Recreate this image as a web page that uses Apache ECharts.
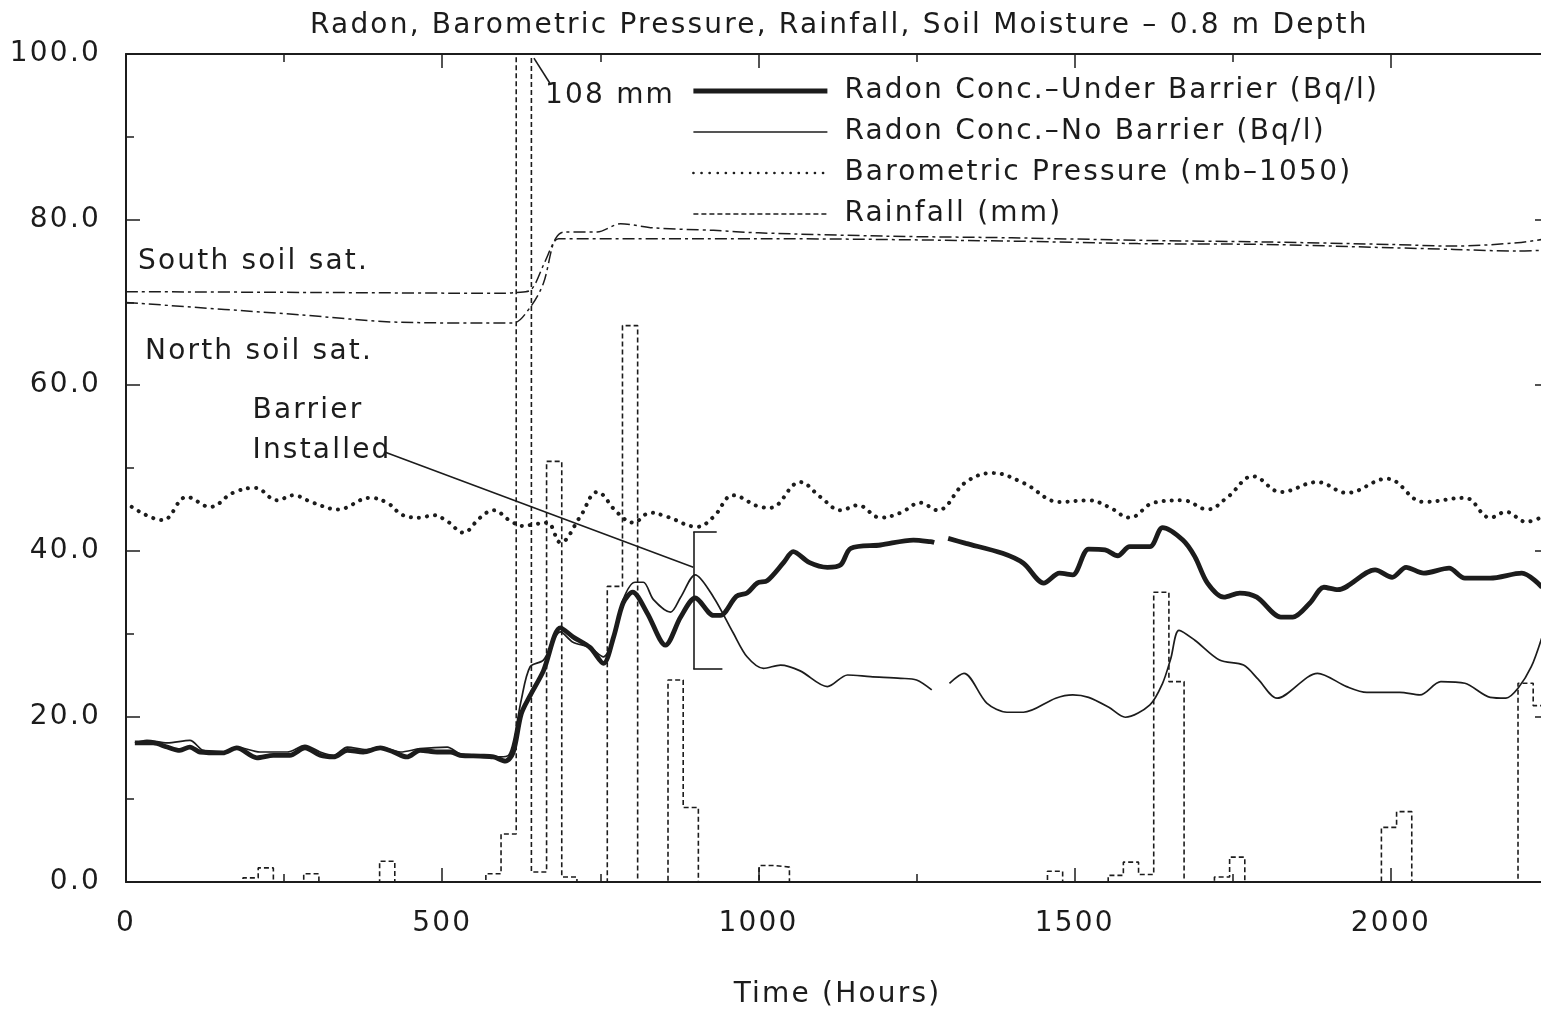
<!DOCTYPE html>
<html>
<head>
<meta charset="utf-8">
<script src="https://cdn.jsdelivr.net/npm/echarts@6/dist/echarts.min.js"></script>
<style>
html,body{margin:0;padding:0;background:#fff;}
#chart{width:1541px;height:1013px;}
</style>
</head>
<body>
<div id="chart"></div>
<script>
// ---------------- DATA ----------------
const underHours = [14,43,65,85,101,117,153,175,207,233,259,283,307,328,350,375,402,423,444,465,492,513,528,560,581,600,612,625,639,660,687,707,734,755,771,786,801,824,853,877,900,929,940,965,982,998,1014,1040,1055,1080,1109,1130,1146,1193,1245,1272,1278,1290,1300,1328,1386,1419,1451,1476,1497,1522,1548,1568,1587,1619,1639,1671,1690,1710,1736,1761,1788,1826,1845,1872,1894,1916,1975,2002,2024,2052,2092,2117,2157,2207,2239];
const underRadon = [16.8,16.8,16.3,15.9,16.3,15.7,15.6,16.2,15.0,15.3,15.3,16.2,15.3,15.1,15.9,15.7,16.2,15.7,15.1,15.9,15.7,15.7,15.3,15.2,15.1,14.6,15.6,20.3,22.5,25.5,30.7,29.6,28.3,26.4,29.6,33.7,35.0,32.5,28.6,32.0,34.3,32.2,32.2,34.5,34.9,36.1,36.4,38.6,39.9,38.6,38.0,38.3,40.3,40.7,41.3,41.1,41.0,'-',41.5,40.9,39.7,38.5,36.1,37.3,37.1,40.2,40.1,39.4,40.5,40.5,42.8,41.3,39.3,36.1,34.4,34.9,34.4,32.0,32.0,33.7,35.6,35.3,37.7,36.8,38.0,37.3,37.9,36.7,36.7,37.3,35.6];

const noHours = [14,33,65,101,122,153,175,212,255,283,307,328,350,380,402,434,465,508,528,560,592,605,613,625,639,660,687,706,734,755,771,786,805,818,834,861,877,900,929,960,982,1008,1035,1066,1109,1141,1177,1225,1250,1274,1290,1302,1325,1361,1393,1419,1470,1497,1522,1554,1580,1619,1639,1652,1665,1690,1729,1767,1790,1820,1884,1930,1962,2014,2046,2079,2117,2157,2182,2201,2222,2239];
const noRadon = [16.8,17.1,16.8,17.1,15.9,15.7,16.3,15.7,15.7,16.5,15.7,15.3,16.3,16.0,16.3,15.7,16.1,16.3,15.5,15.3,15.1,15.3,17.1,22.0,26.0,26.8,30.2,29.0,28.3,27.2,29.6,34.1,36.2,36.2,34.1,32.6,34.4,37.1,34.4,30.1,27.2,25.8,26.2,25.5,23.6,25.0,24.8,24.6,24.4,23.2,'-',24.0,25.2,21.6,20.5,20.5,22.2,22.6,22.3,21.1,19.9,21.4,24.0,27.0,30.4,29.2,26.8,26.2,24.5,22.2,25.2,23.6,22.9,22.9,22.6,24.2,24.0,22.3,22.2,23.4,26.0,29.6];

const pressHours = [9,58,96,133,169,204,239,264,296,335,386,413,438,465,486,509,533,560,581,608,628,645,666,687,718,745,777,802,829,856,903,929,960,1003,1019,1066,1098,1130,1157,1193,1225,1256,1283,1328,1370,1419,1476,1522,1554,1587,1625,1671,1710,1742,1782,1826,1884,1930,1994,2052,2117,2157,2182,2214,2239];
const pressure = [45.3,43.7,46.5,45.3,47.0,47.6,46.1,46.7,45.8,45.0,46.4,45.8,44.3,44.0,44.3,43.5,42.2,44.0,44.9,43.6,43.0,43.2,43.4,41.0,44.1,47.1,44.6,43.4,44.6,44.1,42.9,44.1,46.7,45.3,45.2,48.3,46.5,44.9,45.5,44.0,44.6,45.8,44.9,48.3,49.4,48.2,45.9,46.1,45.3,44.0,45.8,46.1,45.0,46.5,49.0,47.1,48.3,47.0,48.7,45.9,46.4,44.0,44.7,43.5,44.1];

const rainHours = [0,185,209,233,281,305,401,425,569,593,617,641,665,689,713,761,785,809,857,881,905,1001,1025,1049,1457,1481,1553,1577,1601,1625,1649,1673,1721,1745,1769,1985,2009,2033,2201,2225,2250];
const rainMm = [0,0.5,1.7,0,1.0,0,2.5,0,1.0,5.8,108,1.2,50.8,0.6,0,35.7,67.2,0,24.4,9.0,0,2.0,1.8,0,1.3,0,0.8,2.4,0.9,35.0,24.2,0,0.6,3.0,0,6.6,8.5,0,24.0,21.3,21.3];

const southHours = [0,300,600,617,640,660,680,692,745,782,834,929,1000,1200,1400,1600,1800,2000,2100,2200,2239];
const southSat = [71.3,71.2,71.1,71.2,71.5,74.5,77.8,78.5,78.5,79.5,79.0,78.7,78.4,78.0,77.8,77.5,77.3,77.0,76.8,77.2,77.6];
const northHours = [0,275,434,612,639,660,676,684,1000,1400,1600,1800,2000,2100,2200,2239];
const northSat = [70.0,68.5,67.6,67.5,69.4,72.3,77.2,77.7,77.7,77.4,77.1,77.0,76.6,76.4,76.2,76.3];

const names = {
  under: 'Radon Conc.–Under Barrier (Bq/l)',
  no: 'Radon Conc.–No Barrier (Bq/l)',
  press: 'Barometric Pressure (mb–1050)',
  rain: 'Rainfall (mm)'
};

// ---------------- STYLE: wide plotter-like lettering ----------------
(function () {
  const P = CanvasRenderingContext2D.prototype;
  const orig = P.fillText;
  P.fillText = function () {
    const had = 'letterSpacing' in this;
    const old = had ? this.letterSpacing : null;
    if (had) this.letterSpacing = '2.2px';
    const r = orig.apply(this, arguments);
    if (had) this.letterSpacing = old;
    return r;
  };
})();

// ---------------- CHART ----------------
const FONT = '"DejaVu Sans", sans-serif';
const FS = 28;
const INK = '#1c1c1c';
const pair = (xs, ys) => xs.map((x, i) => [x, ys[i]]);

const chart = echarts.init(document.getElementById('chart'), null, {renderer: 'canvas'});

function xAx(pos, showLabel) {
  return {
    type: 'value', position: pos, min: 0, max: 2250, interval: 500,
    axisLine: {show: true, onZero: false, lineStyle: {color: INK, width: 2}},
    axisTick: {show: true, inside: true, length: 14, lineStyle: {color: INK, width: 1.5}},
    minorTick: {show: true, splitNumber: 2, length: 8, lineStyle: {color: INK, width: 1.5}},
    splitLine: {show: false}, minorSplitLine: {show: false},
    axisLabel: {show: showLabel, fontSize: FS, color: INK, fontFamily: FONT, margin: 28,
      showMaxLabel: false,
      formatter: v => (v % 500 === 0 ? String(v) : '')},
    name: showLabel ? 'Time (Hours)' : '',
    nameLocation: 'middle', nameGap: 99,
    nameTextStyle: {fontSize: FS, color: INK, fontFamily: FONT}
  };
}
function yAx(pos, showLabel) {
  return {
    type: 'value', position: pos, min: 0, max: 100, interval: 20,
    axisLine: {show: true, onZero: false, lineStyle: {color: INK, width: 2}},
    axisTick: {show: true, inside: true, length: 14, lineStyle: {color: INK, width: 1.5}},
    minorTick: {show: true, splitNumber: 2, length: 8, lineStyle: {color: INK, width: 1.5}},
    splitLine: {show: false}, minorSplitLine: {show: false},
    axisLabel: {show: showLabel, fontSize: FS, color: INK, fontFamily: FONT, margin: 25,
      formatter: v => v.toFixed(1)}
  };
}

const txt = (x, y, text, align) => ({
  type: 'text', x: x, y: y, silent: true,
  style: {text: text, font: FS + 'px ' + FONT, fill: INK, align: align || 'left', verticalAlign: 'middle'}
});

const option = {
  backgroundColor: '#ffffff',
  animation: false,
  title: {
    text: 'Radon, Barometric Pressure, Rainfall, Soil Moisture – 0.8 m Depth',
    left: 305, top: 7,
    textStyle: {fontSize: FS, fontWeight: 'normal', color: INK, fontFamily: FONT}
  },
  grid: {left: 126, top: 54, width: 1423, height: 828, containLabel: false, outerBoundsMode: 'none'},
  xAxis: [xAx('bottom', true), xAx('top', false)],
  yAxis: [yAx('left', true), yAx('right', false)],
  legend: {
    orient: 'vertical', left: 686, top: 71,
    itemWidth: 134, itemHeight: 14, itemGap: 11,
    data: [
      {name: names.under},
      {name: names.no},
      {name: names.press, lineStyle: {width: 2.6}},
      {name: names.rain}
    ],
    itemStyle: {opacity: 0},
    lineStyle: {width: 'inherit'},
    textStyle: {fontSize: FS, color: INK, fontFamily: FONT, lineHeight: 30, padding: [0, 0, 0, 12]},
    selectedMode: false
  },
  graphic: [
    txt(545, 96, '108 mm'),
    txt(138, 262, 'South soil sat.'),
    txt(145, 352, 'North soil sat.'),
    txt(308, 411, 'Barrier', 'center'),
    txt(322, 451, 'Installed', 'center')
  ],
  series: [
    {
      name: names.rain, type: 'line', step: 'end', symbol: 'none', clip: true, z: 2,
      data: pair(rainHours, rainMm),
      lineStyle: {color: INK, width: 1.6, type: [5, 3]},
      itemStyle: {color: INK}
    },
    {
      name: 'South soil sat.', type: 'line', symbol: 'none', smooth: 0.3, z: 2,
      data: pair(southHours, southSat),
      lineStyle: {color: INK, width: 1.5, type: [12, 4, 3, 4]},
      itemStyle: {color: INK}
    },
    {
      name: 'North soil sat.', type: 'line', symbol: 'none', smooth: 0.3, z: 2,
      data: pair(northHours, northSat),
      lineStyle: {color: INK, width: 1.5, type: [12, 4, 3, 4]},
      itemStyle: {color: INK}
    },
    {
      name: names.press, type: 'line', symbol: 'none', smooth: 0.4, z: 3,
      data: pair(pressHours, pressure),
      lineStyle: {color: INK, width: 4, type: [0.1, 8], cap: 'round'},
      itemStyle: {color: INK}
    },
    {
      name: names.no, type: 'line', symbol: 'none', smooth: 0.3, z: 4, connectNulls: false,
      data: pair(noHours, noRadon),
      lineStyle: {color: INK, width: 1.7},
      itemStyle: {color: INK}
    },
    {
      name: names.under, type: 'line', symbol: 'none', smooth: 0.3, z: 5, connectNulls: false,
      data: pair(underHours, underRadon),
      lineStyle: {color: INK, width: 4.8},
      itemStyle: {color: INK}
    },
    {
      name: 'annotations', type: 'line', data: [], symbol: 'none', z: 6,
      markLine: {
        silent: true, animation: false,
        symbol: ['none', 'arrow'], symbolSize: [0, 11],
        label: {show: false},
        lineStyle: {color: INK, width: 1.6, type: 'solid'},
        data: [
          [{coord: [670, 96.5]}, {coord: [645, 99.5]}],
          [{coord: [410, 51.9], symbol: 'none'}, {coord: [897, 38.0], symbol: 'none'}],
          [{coord: [897, 42.3], symbol: 'none'}, {coord: [897, 25.7], symbol: 'none'}],
          [{coord: [897, 42.3]}, {coord: [934, 42.3]}],
          [{coord: [897, 25.7]}, {coord: [943, 25.7]}]
        ]
      }
    }
  ]
};
chart.setOption(option);
</script>
</body>
</html>
